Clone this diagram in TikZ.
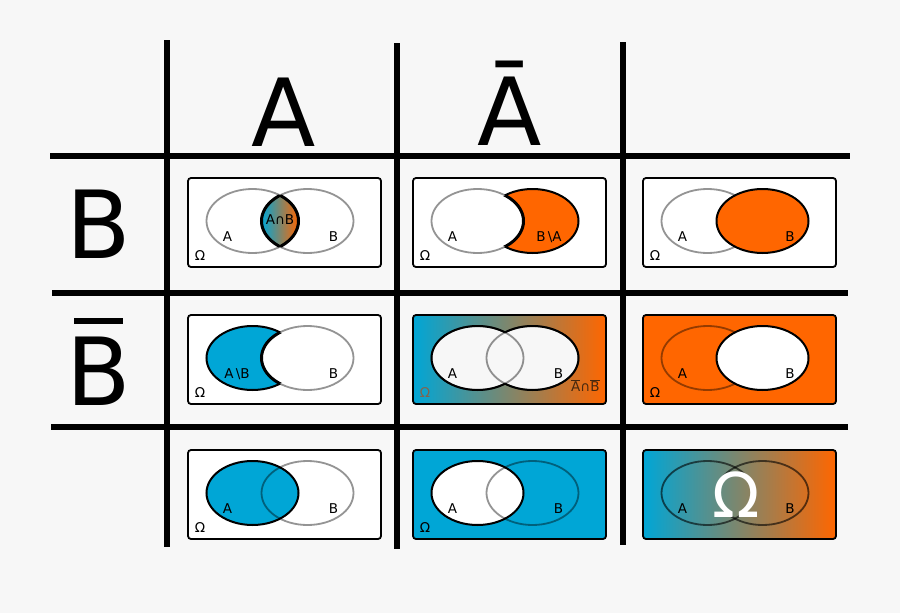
\documentclass[tikz,border=0pt]{standalone}
\usepackage{fontspec}
\setmainfont{DejaVu Sans}
\definecolor{cblue}{HTML}{00A6D6}
\definecolor{corange}{HTML}{FF6600}
\definecolor{cbg}{HTML}{F7F7F7}
\definecolor{cpale}{HTML}{F7F7F7}
\definecolor{cmuted}{RGB}{130,100,78}
\definecolor{cdarkb}{RGB}{70,40,15}
\newcommand\EA{(64.5,43) ellipse [x radius=46pt, y radius=32pt]}
\newcommand\EB{(119.5,43) ellipse [x radius=46pt, y radius=32pt]}
\newcommand\BOX{(0,0) rectangle (193,89)}
\tikzset{
  gridline/.style={line width=6pt, draw=black},
  cellbox/.style={rounded corners=3pt, line width=1.8pt, draw=black},
  faint/.style={draw=black, draw opacity=0.42, line width=1.8pt},
  faintdark/.style={draw=black, draw opacity=0.6, line width=1.8pt},
  strong/.style={draw=black, line width=2pt},
  lbl/.style={font=\fontsize{13.5}{13.5}\selectfont, inner sep=0pt},
  hdr/.style={font=\fontsize{94}{94}\selectfont, inner sep=0pt, anchor=base},
}
\begin{document}
\begin{tikzpicture}[x=1pt,y=-1pt]
\fill[cbg] (0,0) rectangle (900,613);
\useasboundingbox (0,0) rectangle (900,613);
% grid
\coordinate (v1t) at (166.5,40); \coordinate (v1b) at (166.5,547);
\coordinate (v2t) at (397,43); \coordinate (v2b) at (397,549);
\coordinate (v3t) at (623,42); \coordinate (v3b) at (623,545);
\coordinate (h1l) at (50,155.7); \coordinate (h1r) at (850,155.7);
\coordinate (h2l) at (52,292.7); \coordinate (h2r) at (848,292.7);
\coordinate (h3l) at (51,426.7); \coordinate (h3r) at (848,426.7);
\draw[gridline] (v1t) -- (v1b);
\draw[gridline] (v2t) -- (v2b);
\draw[gridline] (v3t) -- (v3b);
\draw[gridline] (h1l) -- (h1r);
\draw[gridline] (h2l) -- (h2r);
\draw[gridline] (h3l) -- (h3r);
% headers
\node[hdr] (hA) at (284,146) {A};
\node[hdr] (hAbar) at (510,145) {Ā};
\node[hdr] (hB) at (98.5,258) {B};
\node[hdr] (hBbar) at (98.5,405) {B};
\fill (74,317.8) rectangle (123,323.6);
% ---- cell 1: A cap B
\begin{scope}[shift={(188,178)}]
  \fill[white, rounded corners=3pt] \BOX;
  \begin{scope}\clip \EA; \clip \EB;
    \shade[left color=cblue, right color=corange] (73.5,0) rectangle (110.5,89);
  \end{scope}
  \draw[faint] \EA; \draw[faint] \EB;
  \begin{scope}\clip \EA; \draw[strong, line width=3pt] \EB; \end{scope}
  \begin{scope}\clip \EB; \draw[strong, line width=3pt] \EA; \end{scope}
  \draw[cellbox] \BOX;
  \node[lbl] (a1) at (39.5,59) {A};
  \node[lbl] (b1) at (145.5,59) {B};
  \node[lbl] (o1) at (12,77.5) {Ω};
  \node[lbl] (s1) at (92,41.5) {A∩B};
\end{scope}
% ---- cell 2: B minus A
\begin{scope}[shift={(413,178)}]
  \fill[white, rounded corners=3pt] \BOX;
  \fill[corange] \EB; \draw[strong] \EB;
  \fill[white] \EA; \draw[faint] \EA;
  \begin{scope}\clip \EB; \draw[strong, line width=3pt] \EA; \end{scope}
  \draw[cellbox] \BOX;
  \node[lbl] (a2) at (39.5,59) {A};
  \node[lbl] (s2) at (136,59) {B\,\textbackslash A};
  \node[lbl] (o2) at (12,77.5) {Ω};
\end{scope}
% ---- cell 3: B
\begin{scope}[shift={(643,178)}]
  \fill[white, rounded corners=3pt] \BOX;
  \draw[faint] \EA;
  \fill[corange] \EB; \draw[strong] \EB;
  \draw[cellbox] \BOX;
  \node[lbl] (a3) at (39.5,59) {A};
  \node[lbl] (b3) at (147,59) {B};
  \node[lbl] (o3) at (12,77.5) {Ω};
\end{scope}
% ---- cell 4: A minus B
\begin{scope}[shift={(188,315)}]
  \fill[white, rounded corners=3pt] \BOX;
  \fill[cblue] \EA; \draw[strong] \EA;
  \fill[white] \EB; \draw[faint] \EB;
  \begin{scope}\clip \EA; \draw[strong, line width=3pt] \EB; \end{scope}
  \draw[cellbox] \BOX;
  \node[lbl] (s4) at (49,59) {A\,\textbackslash B};
  \node[lbl] (b4) at (145.5,59) {B};
  \node[lbl] (o4) at (12,77.5) {Ω};
\end{scope}
% ---- cell 5: Abar cap Bbar
\begin{scope}[shift={(413,315)}]
  \shade[left color=cblue, right color=corange, rounded corners=3pt] \BOX;
  \fill[cpale] \EA; \fill[cpale] \EB;
  \draw[faint] \EA; \draw[faint] \EB;
  \begin{scope}[even odd rule]\clip (-5,-5) rectangle (198,94) \EB; \draw[strong] \EA; \end{scope}
  \begin{scope}[even odd rule]\clip (-5,-5) rectangle (198,94) \EA; \draw[strong] \EB; \end{scope}
  \draw[cellbox] \BOX;
  \node[lbl] (a5) at (39.5,59) {A};
  \node[lbl] (b5) at (145.5,59) {B};
  \node[lbl, text=cmuted] (o5) at (12,77.5) {Ω};
  \node[lbl, text=cdarkb] (s5) at (172.4,71) {$\overline{\mbox{A}}$∩$\overline{\mbox{B}}$};
\end{scope}
% ---- cell 6: Bbar
\begin{scope}[shift={(643,315)}]
  \fill[corange, rounded corners=3pt] \BOX;
  \draw[faint] \EA;
  \fill[white] \EB; \draw[strong] \EB;
  \draw[cellbox] \BOX;
  \node[lbl] (a6) at (39.5,59) {A};
  \node[lbl] (b6) at (147,59) {B};
  \node[lbl] (o6) at (12,77.5) {Ω};
\end{scope}
% ---- cell 7: A
\begin{scope}[shift={(188,450)}]
  \fill[white, rounded corners=3pt] \BOX;
  \fill[cblue] \EA; \draw[strong] \EA;
  \draw[faint] \EB;
  \draw[cellbox] \BOX;
  \node[lbl] (a7) at (39.5,59) {A};
  \node[lbl] (b7) at (145.5,59) {B};
  \node[lbl] (o7) at (12,77.5) {Ω};
\end{scope}
% ---- cell 8: Abar
\begin{scope}[shift={(413,450)}]
  \fill[cblue, rounded corners=3pt] \BOX;
  \fill[white] \EA; \draw[strong] \EA;
  \draw[faint] \EB;
  \draw[cellbox] \BOX;
  \node[lbl] (a8) at (39.5,59) {A};
  \node[lbl] (b8) at (145.5,59) {B};
  \node[lbl] (o8) at (12,77.5) {Ω};
\end{scope}
% ---- cell 9: Omega
\begin{scope}[shift={(643,450)}]
  \shade[left color=cblue, right color=corange, rounded corners=3pt] \BOX;
  \draw[faintdark] \EA; \draw[faintdark] \EB;
  \draw[cellbox] \BOX;
  \node[lbl] (a9) at (39.5,59) {A};
  \node[lbl] (b9) at (147,59) {B};
  \node[font=\fontsize{62}{62}\selectfont, text=white, inner sep=0pt, anchor=base] (big9) at (93,67) {Ω};
\end{scope}
\end{tikzpicture}
\end{document}
